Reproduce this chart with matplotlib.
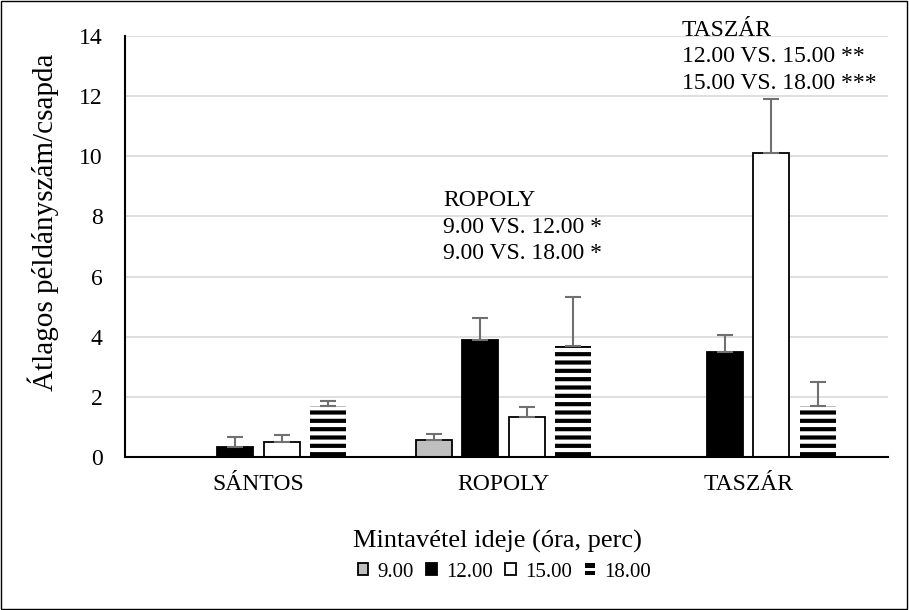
import numpy as np
import matplotlib.pyplot as plt
from matplotlib.patches import Patch, Rectangle
from matplotlib.legend_handler import HandlerBase

plt.rcParams['font.family'] = ['Liberation Serif', 'DejaVu Serif']
plt.rcParams['hatch.linewidth'] = 3.0
plt.rcParams['hatch.color'] = 'black'

# data
sites = ['SÁNTOS', 'ROPOLY', 'TASZÁR']
times = ['9.00', '12.00', '15.00', '18.00']
means = {
    '9.00':  [0.0, 0.57, 0.0],
    '12.00': [0.32, 3.9, 3.5],
    '15.00': [0.5, 1.32, 10.1],
    '18.00': [1.7, 3.68, 1.7],
}
errs = {
    '9.00':  [0.0, 0.18, 0.0],
    '12.00': [0.35, 0.72, 0.57],
    '15.00': [0.22, 0.33, 1.8],
    '18.00': [0.15, 1.63, 0.8],
}
styles = {
    '9.00':  dict(facecolor='#bfbfbf', edgecolor='black', linewidth=1.3),
    '12.00': dict(facecolor='black', edgecolor='black', linewidth=1.3),
    '15.00': dict(facecolor='white', edgecolor='black', linewidth=1.3),
    '18.00': dict(facecolor='white', edgecolor='black', linewidth=0, hatch='--'),
}


class StripeHandler(HandlerBase):
    # two black bars, like the striped legend key in the original
    def create_artists(self, legend, orig_handle, xdescent, ydescent,
                       width, height, fontsize, trans):
        bh = height * 0.36
        r1 = Rectangle((-xdescent, -ydescent), width, bh, facecolor='black',
                       edgecolor='none', transform=trans)
        r2 = Rectangle((-xdescent, -ydescent + height - bh), width, bh,
                       facecolor='black', edgecolor='none', transform=trans)
        return [r1, r2]


fig = plt.figure(figsize=(9.09, 6.1), dpi=100)
ax = fig.add_axes([0.1375, 0.2508, 0.977 - 0.1375, 0.941 - 0.2508])

x = np.arange(len(sites))
w = 0.147
step = 0.188
for i, t in enumerate(times):
    pos = x + (i - 1.5) * step
    ax.bar(pos, means[t], width=w, zorder=3, **styles[t])
    yerr = np.array(errs[t])
    mask = yerr > 0
    ax.errorbar(pos[mask], np.array(means[t])[mask],
                yerr=[np.zeros(mask.sum()), yerr[mask]],
                fmt='none', ecolor='#707070', elinewidth=1.5, capsize=6,
                capthick=1.5, zorder=4)

ax.set_ylim(0, 14)
ax.set_yticks(range(0, 15, 2))
ax.set_xlim(-0.545, 2.57)
ax.set_xticks(x)
ax.set_xticklabels(sites)
ax.tick_params(axis='both', length=0, labelsize=17)
ax.tick_params(axis='y', pad=16)
ax.tick_params(axis='x', pad=12)
ax.grid(axis='y', color='#d9d9d9', linewidth=1.2, zorder=0)
ax.set_axisbelow(True)
for s in ['top', 'right']:
    ax.spines[s].set_visible(False)
for s in ['left', 'bottom']:
    ax.spines[s].set_linewidth(1.5)
    ax.spines[s].set_zorder(5)

fig.text(43 / 909, 0.636, 'Átlagos példányszám/csapda', fontsize=21,
         rotation=90, ha='center', va='center')
fig.text(0.547, 0.113, 'Mintavétel ideje (óra, perc)', fontsize=19,
         ha='center', va='center')

ax.text(0.753, 8.88, 'ROPOLY\n9.00 VS. 12.00 *\n9.00 VS. 18.00 *',
        fontsize=17, ha='left', va='top', linespacing=1.35)
ax.text(1.728, 14.54, 'TASZÁR\n12.00 VS. 15.00 **\n15.00 VS. 18.00 ***',
        fontsize=17, ha='left', va='top', linespacing=1.35, clip_on=False)

handles = [Patch(label=t, **styles[t]) for t in times[:3]]
handles.append(Patch(label='18.00'))
fig.legend(handles=handles, loc='center', bbox_to_anchor=(0.555, 0.062),
           ncol=4, frameon=False, fontsize=15, handlelength=0.5,
           handleheight=0.5, handletextpad=0.45, columnspacing=0.6,
           handler_map={handles[3]: StripeHandler()})

fig.patches.append(Rectangle((0.001, 0.002), 0.997, 0.996, transform=fig.transFigure,
                             fill=False, edgecolor='black', linewidth=1))

plt.savefig('out.png', dpi=100)
